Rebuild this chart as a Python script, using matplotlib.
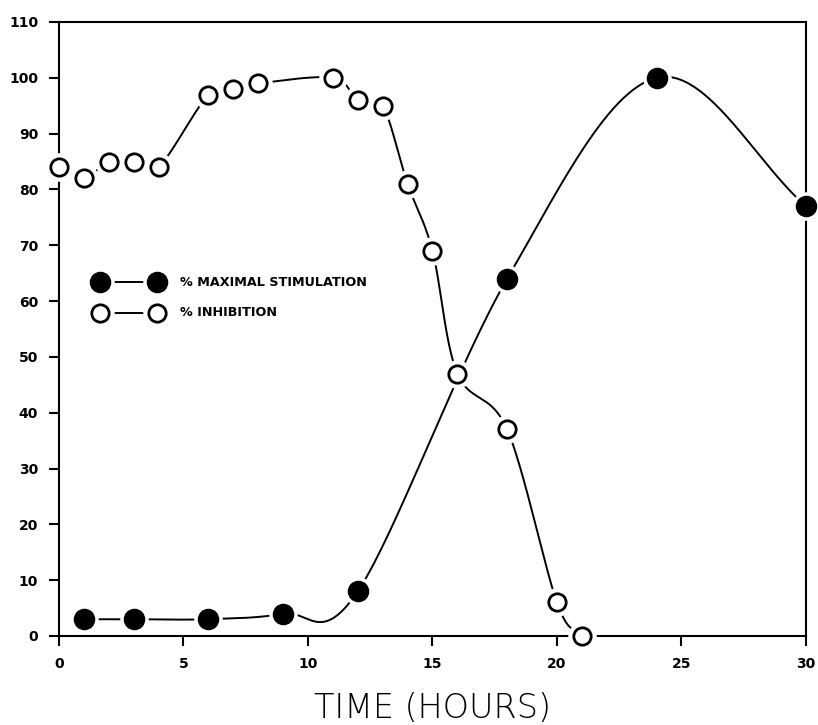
import numpy as np
import matplotlib
matplotlib.use("Agg")
import matplotlib.pyplot as plt

stim_x = [1, 3, 6, 9, 12, 18, 24, 30]
stim_y = [3, 3, 3, 4, 8, 64, 100, 77]
inh_x = [0, 1, 2, 3, 4, 6, 7, 8, 11, 12, 13, 14, 15, 16, 18, 20, 21]
inh_y = [84, 82, 85, 85, 84, 97, 98, 99, 100, 96, 95, 81, 69, 47, 37, 6, 0]
x_ticks = [0, 5, 10, 15, 20, 25, 30]
y_ticks = list(range(0, 111, 10))


def catmull_rom(x, y, n=60):
    P = np.column_stack([np.asarray(x, float), np.asarray(y, float)])
    P = np.vstack([2 * P[0] - P[1], P, 2 * P[-1] - P[-2]])
    out = []
    t = np.linspace(0, 1, n)[:, None]
    h00 = 2 * t**3 - 3 * t**2 + 1
    h10 = t**3 - 2 * t**2 + t
    h01 = -2 * t**3 + 3 * t**2
    h11 = t**3 - t**2
    for i in range(1, len(P) - 2):
        m0 = (P[i + 1] - P[i - 1]) / 2
        m1 = (P[i + 2] - P[i]) / 2
        out.append(h00 * P[i] + h10 * m0 + h01 * P[i + 1] + h11 * m1)
    c = np.vstack(out)
    return c[:, 0], c[:, 1]


fig = plt.figure(figsize=(8.18, 7.25), dpi=100)
ax = fig.add_axes([0.0721, 0.1228, 0.9132, 0.8469])
ax.set_xlim(0, 30)
ax.set_ylim(0, 110)

ms = 13.5
for xs_, ys_, face in [(stim_x, stim_y, 'black'), (inh_x, inh_y, 'white')]:
    cx, cy = catmull_rom(xs_, ys_)
    ax.plot(cx, cy, color='black', lw=1.4, zorder=2, clip_on=False)
    ax.plot(xs_, ys_, 'o', ms=ms + 6, mfc='white', mec='white', zorder=3, clip_on=False)
    ax.plot(xs_, ys_, 'o', ms=ms if face == 'black' else ms - 1, mfc=face, mec='black',
            mew=2, zorder=4, clip_on=False)

# legend
for yy, face, label in [(63.4, 'black', '% MAXIMAL STIMULATION'), (57.9, 'white', '% INHIBITION')]:
    ax.plot([1.65, 3.95], [yy, yy], color='black', lw=1.4, zorder=2)
    ax.plot([1.65, 3.95], [yy, yy], 'o', ms=ms + 6, mfc='white', mec='white', zorder=3)
    ax.plot([1.65, 3.95], [yy, yy], 'o', ms=ms if face == 'black' else ms - 1, mfc=face,
            mec='black', mew=2, zorder=4)
    ax.text(4.85, yy, label, fontsize=9.2, fontweight='bold', va='center', ha='left',
            family='DejaVu Sans Condensed')

ax.set_xticks(x_ticks)
ax.set_yticks(y_ticks)
ax.tick_params(direction='out', length=7, width=1.5, labelsize=10, pad=8)
for lab in ax.get_xticklabels() + ax.get_yticklabels():
    lab.set_fontweight('bold')
for s in ax.spines.values():
    s.set_linewidth(1.5)
ax.set_xlabel('TIME (HOURS)', fontsize=24, fontweight='light', va='center')
ax.xaxis.set_label_coords(0.5, -0.118)

fig.savefig('out.png', dpi=100)
